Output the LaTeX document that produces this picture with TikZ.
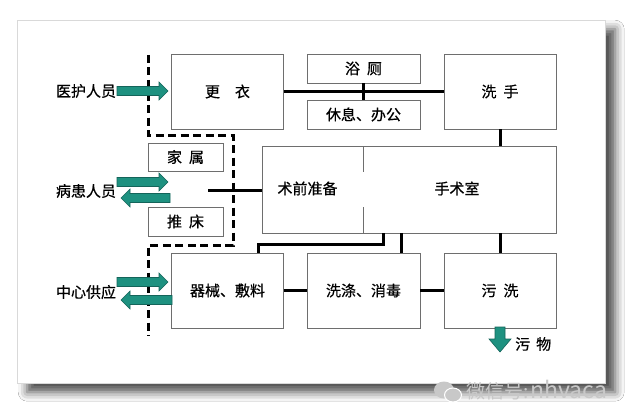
\documentclass[tikz,border=0pt]{standalone}
\usepackage{fontspec}
\newfontfamily\cjk[FakeBold=0.6]{Noto Sans CJK SC}
\newfontfamily\cjkw{Noto Sans CJK SC}
\usetikzlibrary{shadows.blur}
\definecolor{arrfill}{RGB}{30,145,128}
\definecolor{arrdraw}{RGB}{20,100,90}
\definecolor{boxline}{RGB}{110,110,110}
\definecolor{wmark}{RGB}{200,200,200}
\tikzset{
  room/.style={draw=boxline, line width=0.9pt, fill=white, minimum width=#1, inner sep=0pt, font=\cjk\fontsize{15}{15}\selectfont},
  room/.default=112pt,
  lbl/.style={inner sep=0pt, font=\cjk\fontsize{15}{15}\selectfont},
  link/.style={line width=3pt, black},
  bound/.style={line width=3pt, black, dash pattern=on 8pt off 4.5pt},
  blockarr/.style={fill=arrfill, draw=arrdraw, line width=0.6pt, line join=miter}
}
\newcommand{\rarr}[3]{% tail x, tip x, y
  \path[blockarr] (#1,#3-4.5) -- (#2-9,#3-4.5) -- (#2-9,#3-9) -- (#2,#3) -- (#2-9,#3+9) -- (#2-9,#3+4.5) -- (#1,#3+4.5) -- cycle;}
\newcommand{\larr}[3]{% tail x, tip x, y
  \path[blockarr] (#1,#3-4.5) -- (#2+9,#3-4.5) -- (#2+9,#3-9) -- (#2,#3) -- (#2+9,#3+9) -- (#2+9,#3+4.5) -- (#1,#3+4.5) -- cycle;}
\begin{document}
\begin{tikzpicture}[x=1pt,y=-1pt]
\useasboundingbox (0,0) rectangle (640,420);
\fill[white] (0,0) rectangle (640,420);
% card with shadow
\node[draw=black!15, fill=white, minimum width=588pt, minimum height=363pt, inner sep=0pt, anchor=north west,
  blur shadow={shadow xshift=10pt, shadow yshift=-9pt, shadow blur radius=9pt, shadow opacity=70}] (card) at (17,20) {};

% rooms
\node[room, minimum height=75pt] (gengyi) at (227.5,91.5) {更\hspace{15pt}衣};
\node[room=113pt, minimum height=29pt] (yuce) at (363.5,68.5) {浴\hspace{7pt}厕};
\node[room=113pt, minimum height=29pt] (xiuxi) at (363.5,114.5) {休息、办公};
\node[room, minimum height=75pt] (xishou) at (500,91.5) {洗\hspace{7pt}手};
\node[room=294pt, minimum height=87pt] (suite) at (409,189.5) {};
\node[lbl] (prep) at (307.5,188.5) {术前准备};
\node[lbl] (orr) at (457,188.5) {手术室};
\node[room=75pt, minimum height=28pt] (jiashu) at (185.5,157) {家\hspace{7pt}属};
\node[room=75pt, minimum height=29pt] (tuichuang) at (185.5,221.5) {推\hspace{7pt}床};
\node[room, minimum height=75pt] (qixie) at (227.5,290.5) {器械、敷料};
\node[room=113pt, minimum height=75pt] (xidi) at (363.5,290.5) {洗涤、消毒};
\node[room, minimum height=75pt] (wuxi) at (500,290.5) {污\hspace{7pt}洗};

% divider inside suite
\draw[boxline, line width=0.9pt] (363,146) -- (363,172);
\draw[boxline, line width=0.9pt] (363,207) -- (363,233);

% side labels
\node[lbl] (yihu) at (86,91) {医护人员};
\node[lbl] (binghuan) at (86,191) {病患人员};
\node[lbl] (zhongxin) at (86,292) {中心供应};
\node[lbl, anchor=west] (wuwu) at (515,344) {污\hspace{6pt}物};

% connectors
\draw[link] (gengyi.east) -- (xishou.west);
\draw[link] (yuce.south) -- (xiuxi.north);
\draw[link] (xishou.south) -- (suite.north -| xishou.south);
\coordinate (lb) at (208,190);
\draw[link] (lb) -- (lb -| suite.west);
\coordinate (c1) at (383,244);
\coordinate (c2) at (258,244);
\draw[link, line join=miter] (suite.south -| c1) -- (c1) -- (c2) -- (c2 |- qixie.north);
\coordinate (c3) at (401,240);
\draw[link] (suite.south -| c3) -- (c3 |- xidi.north);
\draw[link] (suite.south -| wuxi.north) -- (wuxi.north);
\draw[link] (qixie.east) -- (xidi.west);
\draw[link] (xidi.east) -- (wuxi.west);

% dashed boundary
\draw[bound] (148,55) -- (148,135) -- (233,135) -- (233,245) -- (148,245) -- (148,336);

% flow arrows
\rarr{117}{168}{91}
\rarr{117}{168}{182}
\larr{170}{121}{198}
\rarr{117}{168}{282}
\larr{172}{121}{300}
\path[blockarr] (495,327) -- (505,327) -- (505,339) -- (511,339) -- (500,352) -- (489,339) -- (495,339) -- cycle;

% watermark
\fill[wmark] (444,390) ellipse (10pt and 8.5pt);
\draw[white, line width=1pt, fill=wmark] (453,395) ellipse (8.5pt and 7pt);
\node[inner sep=0pt, anchor=west, text=wmark, font=\cjkw\fontsize{19}{19}\selectfont] (wm) at (466,390) {微信号:\hspace{2pt}{\fontsize{23}{23}\selectfont nhvaca}};
\end{tikzpicture}
\end{document}
